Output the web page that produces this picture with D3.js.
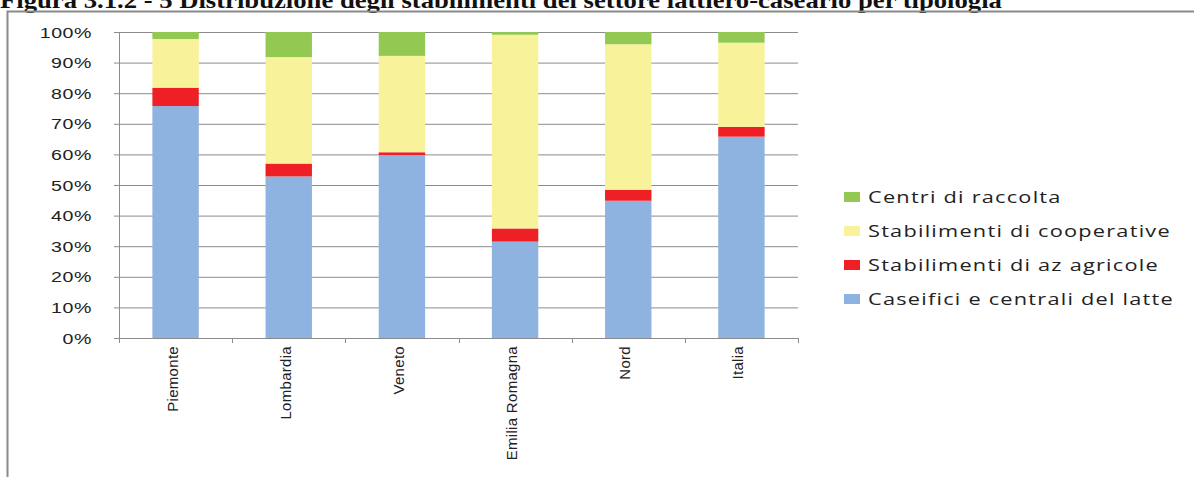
<!DOCTYPE html>
<html>
<head>
<meta charset="utf-8">
<script src="https://cdn.jsdelivr.net/npm/d3@7"></script>
<style>
  body { margin: 0; background: #fff; overflow: hidden; }
</style>
</head>
<body>
<div id="container"></div>
<script>
"use strict";

// data (percent of plants per region)
const regions = ["Piemonte", "Lombardia", "Veneto", "Emilia Romagna", "Nord", "Italia"];
const caseifici = [75.8, 52.8, 59.8, 31.5, 44.9, 65.8];
const azAgricole = [6.0, 4.2, 0.9, 4.3, 3.6, 3.2];
const cooperative = [15.9, 34.8, 31.5, 63.3, 47.6, 27.5];
const centri = [2.3, 8.2, 7.8, 0.9, 4.0, 3.5];
const seriesNames = ["Caseifici e centrali del latte", "Stabilimenti di az agricole",
  "Stabilimenti di cooperative", "Centri di raccolta"];
const seriesColors = ["#8eb3e0", "#ee2026", "#f8f39b", "#93c852"];
const yTicks = [0, 0.1, 0.2, 0.3, 0.4, 0.5, 0.6, 0.7, 0.8, 0.9, 1];
const title = "Figura 3.1.2 - 5 Distribuzione degli stabilimenti del settore lattiero-caseario per tipologia";

const keys = ["caseifici", "azAgricole", "cooperative", "centri"];
const rows = regions.map(function (r, i) {
  return { name: r, caseifici: caseifici[i], azAgricole: azAgricole[i],
    cooperative: cooperative[i], centri: centri[i] };
});

const W = 1194, H = 477;
var margin = { top: 32, left: 119 },
  width = 679,
  height = 306;

var svg = d3.select("#container").append("svg")
  .attr("width", W).attr("height", H);

// title (top is clipped by the page edge like in the scan), glyphs stretched sideways
svg.append("text")
  .attr("transform", "scale(1.16,1)")
  .attr("x", 0).attr("y", 8)
  .attr("font-family", "Liberation Serif, serif")
  .attr("font-weight", "bold")
  .attr("font-size", 23)
  .attr("fill", "#111")
  .text(title);

// frame of the chart object
svg.append("path")
  .attr("d", "M7.5," + H + "V11.5H" + W)
  .attr("fill", "none")
  .attr("stroke", "#8a8a8a")
  .attr("stroke-width", 2);

var g = svg.append("g")
  .attr("transform", "translate(" + margin.left + "," + margin.top + ")");

var x = d3.scaleBand().domain(regions).range([0, width]).paddingInner(0.59).paddingOuter(0.295);
var y = d3.scaleLinear().domain([0, 1]).range([height, 0]);

// gridlines + y axis
var sx = 1.4; // the scan has horizontally stretched glyphs
var yAxis = g.append("g")
  .call(d3.axisLeft(y).tickValues(yTicks).tickSize(-width - 5).tickFormat(d3.format(".0%")).tickPadding(0))
  .call(function (s) { s.select(".domain").remove(); });
yAxis.selectAll(".tick line").attr("stroke", "#8c8c8c").attr("x1", -5).attr("x2", width);
yAxis.selectAll(".tick text")
  .attr("transform", "scale(" + sx + ",1)")
  .attr("x", -27 / sx)
  .attr("dy", "0.36em")
  .attr("font-family", "Liberation Sans, Arial, sans-serif")
  .attr("font-size", 14)
  .attr("letter-spacing", 0.4)
  .attr("fill", "#222");

var stack = d3.stack().keys(keys).offset(d3.stackOffsetExpand);
var layers = stack(rows);

g.selectAll(".layer")
  .data(layers)
  .enter().append("g")
  .attr("class", "layer")
  .attr("fill", function (d, i) { return seriesColors[i]; })
  .selectAll("rect")
  .data(function (d) { return d; })
  .enter().append("rect")
  .attr("x", function (d) { return x(d.data.name); })
  .attr("width", x.bandwidth())
  .attr("y", function (d) { return y(d[1]); })
  .attr("height", function (d) { return y(d[0]) - y(d[1]); });

// y axis line
g.append("line")
  .attr("x1", 0.5).attr("x2", 0.5).attr("y1", 0).attr("y2", height)
  .attr("stroke", "#8c8c8c");

// x axis with ticks between categories
var xAxis = g.append("g")
  .attr("transform", "translate(0," + height + ")");
xAxis.append("line")
  .attr("x1", 0).attr("x2", width).attr("y1", 0.5).attr("y2", 0.5)
  .attr("stroke", "#8c8c8c");
xAxis.selectAll(".sep")
  .data(d3.range(regions.length + 1))
  .enter().append("line")
  .attr("x1", function (i) { return Math.round(i * x.step()) + 0.5; })
  .attr("x2", function (i) { return Math.round(i * x.step()) + 0.5; })
  .attr("y1", 0).attr("y2", 5)
  .attr("stroke", "#8c8c8c");
xAxis.selectAll(".lab")
  .data(regions)
  .enter().append("text")
  .attr("transform", function (d) {
    return "translate(" + (x(d) + x.bandwidth() / 2 + 2) + ",8) rotate(-90)";
  })
  .attr("text-anchor", "end")
  .attr("font-family", "Liberation Sans, Arial, sans-serif")
  .attr("font-size", 15)
  .attr("letter-spacing", 0.3)
  .attr("fill", "#222")
  .text(function (d) { return d; });

// legend, top entry is the top of the stack
var lx = 1.36;
var legend = svg.append("g")
  .attr("transform", "translate(844,197)");
var items = legend.selectAll(".item")
  .data(seriesNames.slice().reverse())
  .enter().append("g")
  .attr("transform", function (d, i) { return "translate(0," + i * 34 + ")"; });
items.append("rect")
  .attr("x", 0).attr("y", -5).attr("width", 16).attr("height", 10)
  .attr("fill", function (d, i) { return seriesColors[seriesColors.length - 1 - i]; });
items.append("text")
  .attr("transform", "scale(" + lx + ",1)")
  .attr("x", 24 / lx).attr("y", 0).attr("dy", "0.35em")
  .attr("font-family", "Open Sans, sans-serif")
  .attr("font-size", 16)
  .attr("letter-spacing", 0.9)
  .attr("fill", "#222")
  .text(function (d) { return d; });
</script>
</body>
</html>
